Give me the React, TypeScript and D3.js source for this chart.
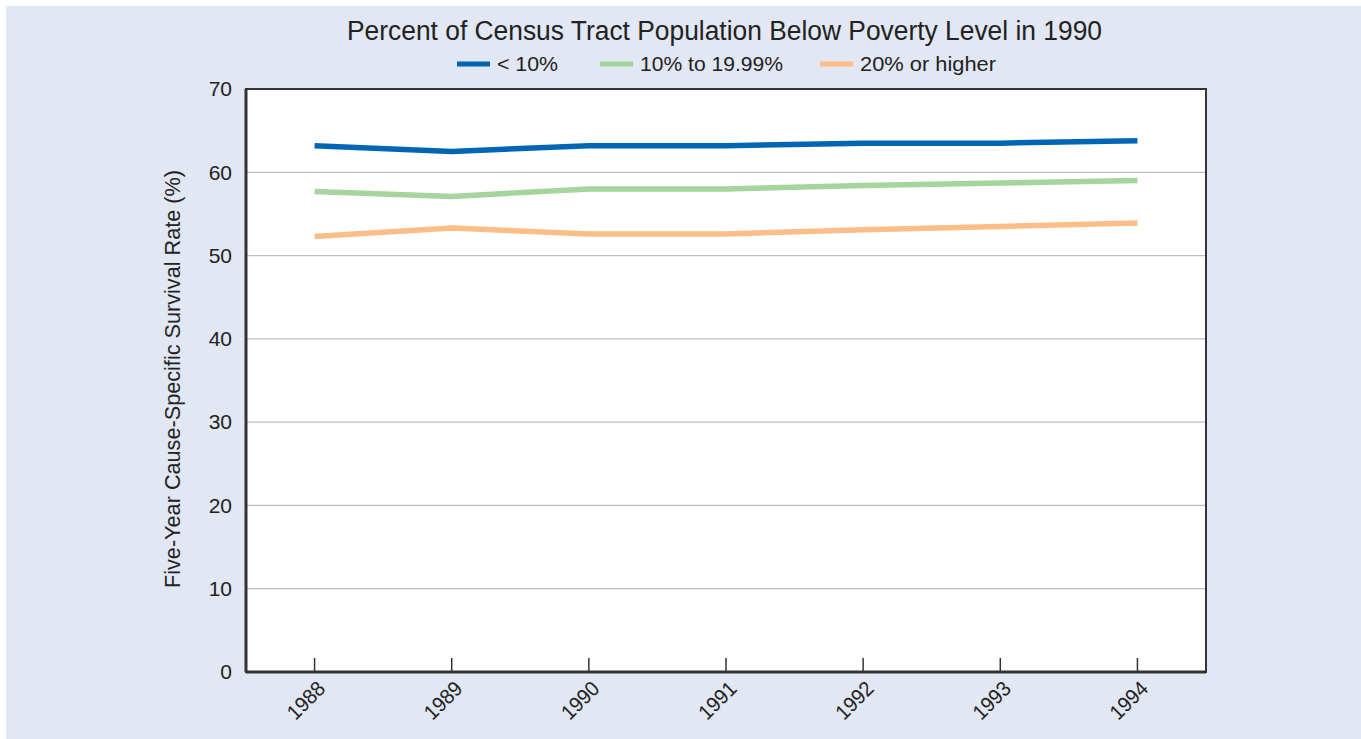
import React from "react";
import * as d3 from "d3";

const years = ["1988", "1989", "1990", "1991", "1992", "1993", "1994"];
const below10 = [63.2, 62.5, 63.2, 63.2, 63.5, 63.5, 63.8];
const from10to20 = [57.7, 57.1, 58.0, 58.0, 58.4, 58.7, 59.0];
const above20 = [52.3, 53.3, 52.6, 52.6, 53.1, 53.5, 53.9];
const seriesNames = ["< 10%", "10% to 19.99%", "20% or higher"];
const yTicks = [0, 10, 20, 30, 40, 50, 60, 70];

const colors = ["#0066B3", "#A5D49C", "#FDBD88"];
const W = 1361;
const H = 739;
const left = 246, right = 1206, top = 89, bottom = 672;
const FONT = "'Liberation Sans', Arial, Helvetica, sans-serif";

export default function App() {
  const x = d3.scalePoint<string>().domain(years).range([left, right]).padding(0.5);
  const y = d3.scaleLinear().domain([0, 70]).range([bottom, top]);
  const line = d3
    .line<number>()
    .x((_, i) => x(years[i]) as number)
    .y((d) => y(d));
  const series = [below10, from10to20, above20];
  const legendX = [457, 600, 820];
  const legendTextLen = [61, 143, 136];

  return (
    <svg
      width={W}
      height={H}
      style={{ position: "absolute", left: 0, top: 0 }}
      fontFamily={FONT}
    >
      <rect x={0} y={0} width={W} height={H} fill="#ffffff" />
      <rect x={6} y={6} width={W - 6} height={H - 6} fill="#E1E7F3" />
      <rect x={left} y={top} width={right - left} height={bottom - top} fill="#ffffff" />
      {yTicks.filter((t) => t > 0 && t < 70).map((t) => (
        <line key={t} x1={left} x2={right} y1={y(t)} y2={y(t)} stroke="#BEBEC2" strokeWidth={1.2} />
      ))}
      {years.map((yr) => (
        <line key={yr} x1={x(yr)} x2={x(yr)} y1={bottom} y2={bottom - 14} stroke="#333" strokeWidth={1.5} />
      ))}
      {series.map((s, i) => (
        <path key={i} d={line(s) || ""} fill="none" stroke={colors[i]} strokeWidth={5.5} strokeLinejoin="round" />
      ))}
      <rect x={left} y={top} width={right - left} height={bottom - top} fill="none" stroke="#333" strokeWidth={2} />
      <line x1={left} x2={left} y1={top} y2={bottom} stroke="#333" strokeWidth={3} />
      <line x1={left} x2={right} y1={bottom} y2={bottom} stroke="#333" strokeWidth={3} />
      {yTicks.map((t) => (
        <text key={t} x={232} y={y(t)} dy="0.35em" textAnchor="end" fontSize={21} fill="#222">
          {t}
        </text>
      ))}
      {years.map((yr) => (
        <text
          key={yr}
          transform={`translate(${(x(yr) as number) + 12},${690}) rotate(-45)`}
          textAnchor="end"
          fontSize={21}
          fill="#222"
          textLength={44}
          lengthAdjust="spacingAndGlyphs"
        >
          {yr}
        </text>
      ))}
      <text
        transform={`translate(180,379) rotate(-90)`}
        textAnchor="middle"
        fontSize={22}
        fill="#222"
        textLength={418}
        lengthAdjust="spacingAndGlyphs"
      >
        Five-Year Cause-Specific Survival Rate (%)
      </text>
      <text x={724.5} y={40} textAnchor="middle" fontSize={27} fill="#222" textLength={755} lengthAdjust="spacingAndGlyphs">
        Percent of Census Tract Population Below Poverty Level in 1990
      </text>
      {seriesNames.map((n, i) => (
        <g key={n}>
          <line x1={legendX[i]} x2={legendX[i] + 33} y1={64} y2={64} stroke={colors[i]} strokeWidth={5} />
          <text
            x={legendX[i] + 40}
            y={71}
            fontSize={21}
            fill="#222"
            textLength={legendTextLen[i]}
            lengthAdjust="spacingAndGlyphs"
          >
            {n}
          </text>
        </g>
      ))}
    </svg>
  );
}
